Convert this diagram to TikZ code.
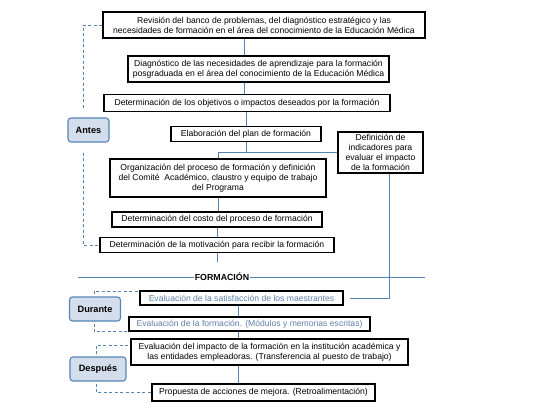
\documentclass[tikz,border=0pt]{standalone}
\usepackage{fontspec}
\setmainfont{Liberation Sans}
\usepackage{tikz}
\definecolor{PlanBlue}{HTML}{5384B8}
\definecolor{PlanPale}{HTML}{D3DDEB}
\definecolor{PlanText}{HTML}{5D7FA8}

\begin{document}
\begin{tikzpicture}[x=1pt,y=-1pt]
  \tikzstyle{pbox}=[draw=black,line width=1.4pt,inner sep=1pt,align=center,
    font=\fontsize{8.6}{10}\selectfont]
  \tikzstyle{phase}=[draw=PlanBlue,fill=PlanPale,rounded corners=3pt,line width=1.1pt,
    minimum height=24,font=\fontsize{9.2}{10}\selectfont\bfseries]
  \tikzstyle{link}=[draw=PlanBlue,line width=0.95pt]
  \tikzstyle{dlink}=[link,dash pattern=on 3pt off 2.5pt]
  \useasboundingbox (0,0) rectangle (542,416);
  % antes
  \node[pbox,minimum width=322,minimum height=26] (rev) at (264,25)
    {Revisión del banco de problemas, del diagnóstico estratégico y las\\
     necesidades de formación en el área del conocimiento de la Educación Médica};
  \node[pbox,minimum width=261,minimum height=26] (diag) at (258.5,69)
    {Diagnóstico de las necesidades de aprendizaje para la formación\\
     posgraduada en el área del conocimiento de la Educación Médica};
  \node[pbox,minimum width=286,minimum height=17] (obj) at (247,103)
    {Determinación de los objetivos o impactos deseados por la formación};
  \node[pbox,minimum width=150,minimum height=15] (elab) at (246,134)
    {Elaboración del plan de formación};
  \node[pbox,minimum width=216,minimum height=38] (org) at (218,178)
    {Organización del proceso de formación y definición\\
     del Comité\ \ Académico, claustro y equipo de trabajo\\
     del Programa};
  \node[pbox,minimum width=210,minimum height=15] (costo) at (217,219.5)
    {Determinación del costo del proceso de formación};
  \node[pbox,minimum width=234,minimum height=15] (motiv) at (217,245)
    {Determinación de la motivación para recibir la formación};
  \node[pbox,minimum width=85,minimum height=41] (ind) at (380.5,152.5)
    {Definición de\\indicadores para\\evaluar el impacto\\de la formación};
  % durante y despues
  \node[pbox,text=PlanText,minimum width=203,minimum height=14] (sat) at (241.5,298)
    {Evaluación de la satisfacción de los maestrantes};
  \node[pbox,text=PlanText,minimum width=241,minimum height=14] (evalform) at (249.5,324)
    {Evaluación de la formación. (Módulos y memorias escritas)};
  \node[pbox,minimum width=277,minimum height=26] (impacto) at (269.5,352)
    {Evaluación del impacto de la formación en la institución académica y\\
     las entidades empleadoras. (Transferencia al puesto de trabajo)};
  \node[pbox,minimum width=223,minimum height=17] (prop) at (263.5,392.5)
    {Propuesta de acciones de mejora. (Retroalimentación)};
  % etapas
  \node[phase,minimum width=41] (Antes) at (88.5,130) {Antes};
  \node[phase,minimum width=51] (Durante) at (95,309) {Durante};
  \node[phase,minimum width=56] (Despues) at (98,369) {Después};
  \node[font=\fontsize{8.8}{10}\selectfont\bfseries,inner sep=1pt] (form) at (222,277) {FORMACIÓN};

  \coordinate (trunk) at (244,0);
  \coordinate (spine) at (238,0);
  \coordinate (indx) at (389,0);
  \coordinate (stub) at (0,262);
  \coordinate (fl) at (78,277);
  \coordinate (fr) at (425,277);
  \coordinate (antx) at (83,0);
  \coordinate (durx) at (94,0);
  \coordinate (desx) at (96,0);

  \draw[link] (rev.south -| trunk) -- (diag.north -| trunk);
  \draw[link] (diag.south -| trunk) -- (obj.north -| trunk);
  \draw[link] (obj.south -| elab) -- (elab.north);
  \draw[link] (elab.south) -- (elab.south |- ind.west);
  \draw[link] (org.north) |- (ind.west);
  \draw[link] (org.south) -- (org.south |- costo.north);
  \draw[link] (costo.south) -- (costo.south |- motiv.north);
  \draw[link] (motiv.south) -- (motiv.south |- stub);
  \draw[link] (fl) -- (form.west);
  \draw[link] (form.east) -- (fr);
  \draw[link] (ind.south -| indx) |- ([xshift=6pt]sat.east);
  \draw[link] (sat.south -| spine) -- (evalform.north -| spine);
  \draw[link] (evalform.south -| spine) -- (impacto.north -| spine);
  \draw[link] (impacto.south -| spine) -- (prop.north -| spine);

  \draw[dlink] (rev.west) -| ([yshift=8pt]Antes.north -| antx);
  \draw[dlink] ([yshift=-10pt]Antes.south -| antx) |- (motiv.west);
  \draw[dlink] ([yshift=2pt]Durante.north -| durx) |- ([yshift=-1pt]sat.north west);
  \draw[dlink] ([yshift=-2pt]Durante.south -| durx) |- (evalform.south west);
  \draw[dlink] ([yshift=2pt]Despues.north -| desx) |- ([yshift=7pt]impacto.west);
  \draw[dlink] ([yshift=-2pt]Despues.south -| desx) |- (prop.west);
\end{tikzpicture}
\end{document}
